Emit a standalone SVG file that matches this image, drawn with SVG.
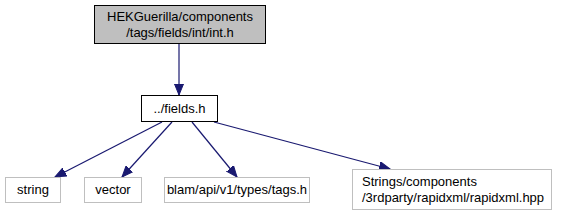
<svg xmlns="http://www.w3.org/2000/svg" width="561" height="216" viewBox="0 0 561 216">
<style>
text{font-family:"Liberation Sans",Arial,sans-serif;font-size:13px;fill:#000}
.n{fill:#fff;stroke:#bfbfbf;stroke-width:1}
.e{stroke:#191970;stroke-width:1.2;fill:none}
</style>
<defs>
<marker id="a" markerWidth="12" markerHeight="10" refX="11" refY="5" orient="auto" markerUnits="userSpaceOnUse">
<path d="M0,0.5 L11,5 L0,9.5 Z" fill="#191970" stroke="#191970"/>
</marker>
</defs>
<rect width="561" height="216" fill="#fff"/>
<g id="connectors">
<path class="e" d="M179,44 L179,95" marker-end="url(#a)"/>
<path class="e" d="M162,122 L55,177" marker-end="url(#a)"/>
<path class="e" d="M172,122 L122,177" marker-end="url(#a)"/>
<path class="e" d="M192,122 L237,177" marker-end="url(#a)"/>
<path class="e" d="M214,122 L390,169" marker-end="url(#a)"/>
</g>
<g id="int_h">
<rect x="94.5" y="5.5" width="171" height="38" fill="#bfbfbf" stroke="#000"/>
<text x="180" y="21" text-anchor="middle">HEKGuerilla/components</text>
<text x="180" y="37" text-anchor="middle">/tags/fields/int/int.h</text>
</g>
<g id="fields_h">
<rect x="141.5" y="95.5" width="76" height="26" fill="#fff" stroke="#000"/>
<text x="179.5" y="113" text-anchor="middle">../fields.h</text>
</g>
<g id="string">
<rect class="n" x="5.5" y="177.5" width="55" height="25"/>
<text x="33" y="194" text-anchor="middle">string</text>
</g>
<g id="vector">
<rect class="n" x="84.5" y="177.5" width="57" height="25"/>
<text x="113" y="194" text-anchor="middle">vector</text>
</g>
<g id="tags_h">
<rect class="n" x="164.5" y="177.5" width="145" height="25"/>
<text x="237" y="194" text-anchor="middle">blam/api/v1/types/tags.h</text>
</g>
<g id="rapidxml">
<rect class="n" x="352.5" y="169.5" width="199" height="40"/>
<text x="362" y="186">Strings/components</text>
<text x="362" y="202">/3rdparty/rapidxml/rapidxml.hpp</text>
</g>
</svg>
